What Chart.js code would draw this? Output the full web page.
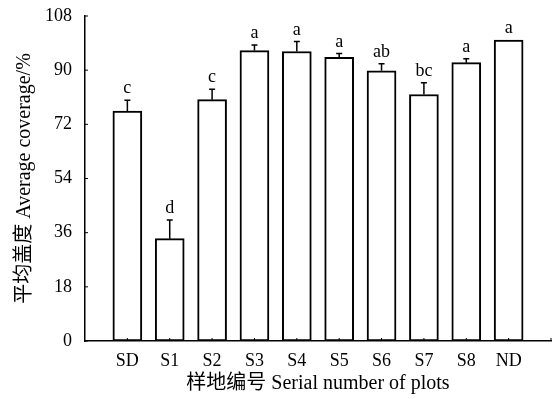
<!DOCTYPE html>
<html>
<head>
<meta charset="utf-8">
<script src="https://cdn.jsdelivr.net/npm/chart.js@4/dist/chart.umd.min.js"></script>
<style>
  html, body { margin: 0; padding: 0; background: #fff; }
  #wrap { width: 552px; height: 399px; }
</style>
</head>
<body>
<div id="wrap"><canvas id="c" width="552" height="399"></canvas></div>
<script>
// ---- data ----
const categories = ['SD', 'S1', 'S2', 'S3', 'S4', 'S5', 'S6', 'S7', 'S8', 'ND'];
const meanCoverage = [76.4, 34.0, 80.2, 96.5, 96.2, 94.3, 89.8, 81.9, 92.5, 100.0];
const stdError = [3.6, 6.2, 3.5, 1.9, 3.3, 1.2, 2.3, 3.9, 1.3, 0];
const sigLetters = ['c', 'd', 'c', 'a', 'a', 'a', 'ab', 'bc', 'a', 'a'];
const yTicks = [0, 18, 36, 54, 72, 90, 108];

// padded category axis (one empty slot each side)
const labels = [''].concat(categories, ['']);
const values = [null].concat(meanCoverage, [null]);
const errs = [null].concat(stdError, [null]);
const letters = [''].concat(sigLetters, ['']);

const serif = "'Liberation Serif', 'Noto Sans CJK SC', serif";

const annotate = {
  id: 'annotate',
  afterDatasetsDraw(chart) {
    const ctx = chart.ctx;
    const x = chart.scales.x, y = chart.scales.y;
    ctx.save();
    ctx.strokeStyle = '#000';
    ctx.fillStyle = '#000';
    ctx.lineWidth = 1.5;
    for (let i = 0; i < labels.length; i++) {
      if (values[i] == null) continue;
      const px = x.getPixelForValue(i);
      const top = y.getPixelForValue(values[i]);
      const et = y.getPixelForValue(values[i] + errs[i]);
      if (errs[i] > 0) {
        ctx.beginPath();
        ctx.moveTo(px, top);
        ctx.lineTo(px, et);
        ctx.moveTo(px - 3, et);
        ctx.lineTo(px + 3, et);
        ctx.stroke();
      }
      ctx.font = '18px ' + serif;
      ctx.textAlign = 'center';
      ctx.textBaseline = 'alphabetic';
      ctx.fillText(letters[i], px, et - 7);
    }
    ctx.lineWidth = 1;
    const ax = chart.chartArea.left, ay = chart.chartArea.bottom;
    yTicks.forEach(v => {
      const py = y.getPixelForValue(v);
      ctx.beginPath();
      ctx.moveTo(ax, py);
      ctx.lineTo(ax + 3, py);
      ctx.stroke();
    });
    for (let i = 1; i < labels.length; i++) {
      const px = x.getPixelForValue(i);
      ctx.beginPath();
      ctx.moveTo(px, ay);
      ctx.lineTo(px, ay - 3);
      ctx.stroke();
    }
    ctx.restore();
  }
};

new Chart(document.getElementById('c'), {
  type: 'bar',
  data: {
    labels: labels,
    datasets: [{
      data: values,
      backgroundColor: '#ffffff',
      borderColor: '#000000',
      borderWidth: 2,
      borderSkipped: false,
      barThickness: 29
    }]
  },
  options: {
    responsive: false,
    animation: false,
    devicePixelRatio: 1,
    layout: { padding: { top: 16, right: 1, left: 0, bottom: 0 } },
    plugins: { legend: { display: false }, tooltip: { enabled: false } },
    scales: {
      x: {
        type: 'category',
        offset: false,
        grid: { display: false, drawTicks: false },
        border: { display: true, color: '#000', width: 1.5 },
        ticks: { color: '#000', font: { family: serif, size: 18 }, padding: 9, maxRotation: 0, autoSkip: false },
        title: {
          display: true,
          text: '样地编号 Serial number of plots',
          color: '#000',
          font: { family: serif, size: 20 },
          padding: { top: 0, bottom: 3 }
        },
        afterFit(s) { s.height = 58; s.paddingLeft = 0; s.paddingRight = 0; }
      },
      y: {
        min: 0, max: 108,
        grid: { display: false, drawTicks: false },
        border: { display: true, color: '#000', width: 1.5 },
        afterBuildTicks(s) { s.ticks = yTicks.map(v => ({ value: v })); },
        ticks: { color: '#000', font: { family: serif, size: 18 }, padding: 13 },
        title: {
          display: true,
          text: '平均盖度 Average coverage/%',
          color: '#000',
          font: { family: serif, size: 20 },
          padding: { top: 13, bottom: 0 }
        },
        afterFit(s) { s.width = 85; s.paddingTop = 0; s.paddingBottom = 0; }
      }
    }
  },
  plugins: [annotate]
});
</script>
</body>
</html>
